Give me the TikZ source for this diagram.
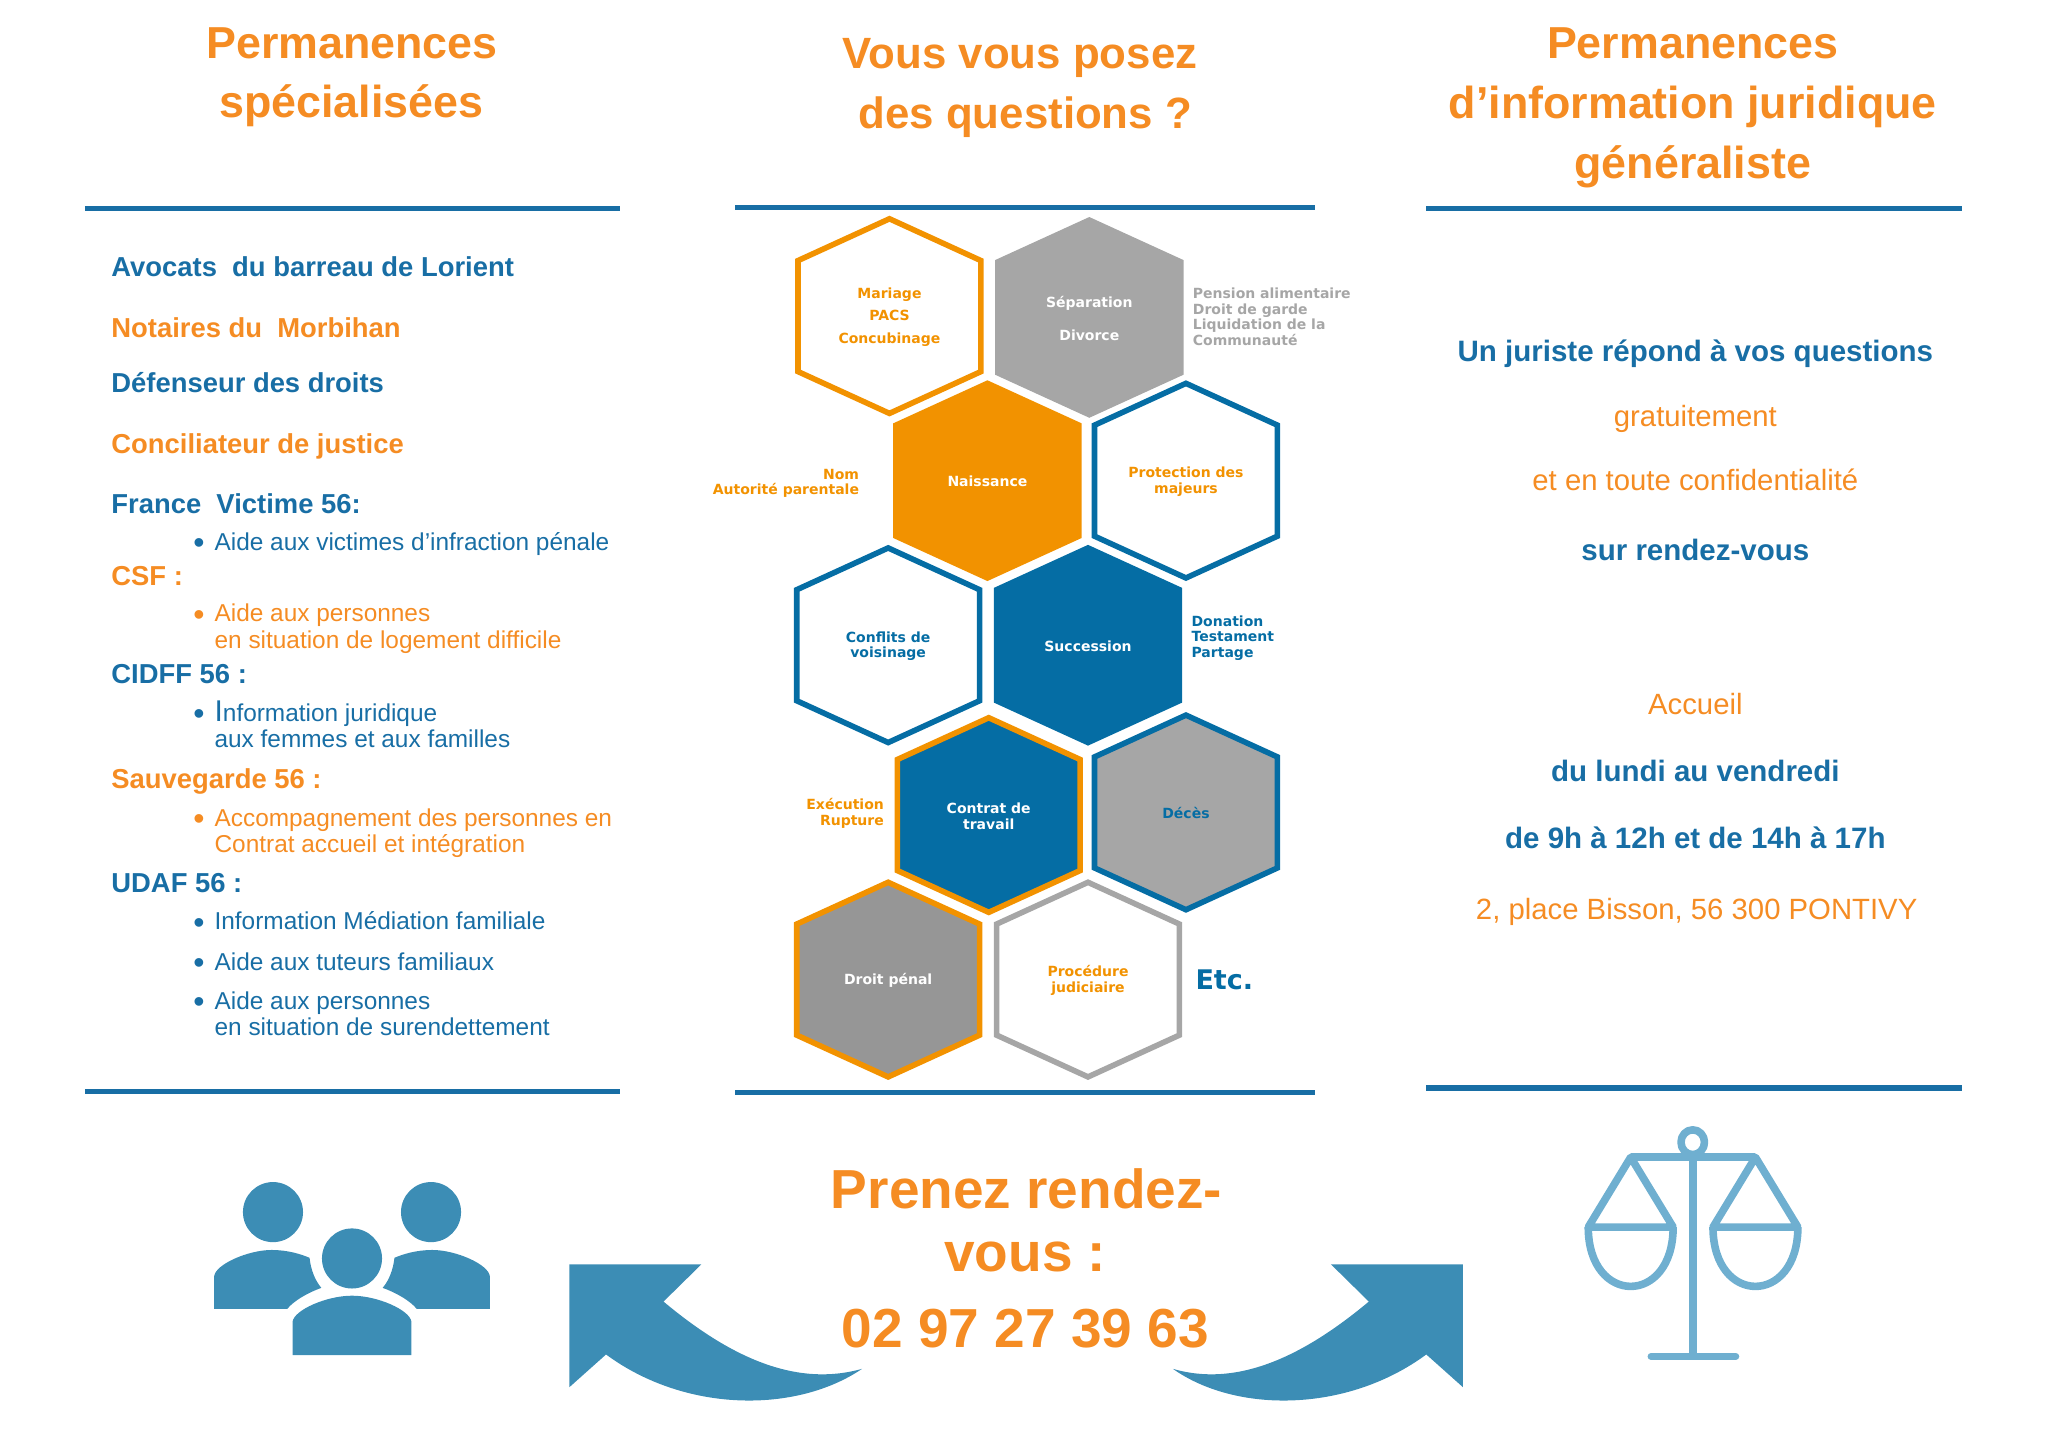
\documentclass[tikz,border=0pt]{standalone}
\usepackage{fontspec}
\setmainfont{Liberation Sans}
\newfontfamily\hexfont{DejaVu Sans}
\usepackage{color}
\definecolor{myblue}{RGB}{24,110,165}
\definecolor{myorange}{RGB}{245,140,35}
\definecolor{hexblue}{RGB}{5,109,164}
\definecolor{hexorange}{RGB}{242,146,0}
\definecolor{hexgray}{RGB}{166,166,166}
\definecolor{hexdark}{RGB}{150,150,150}
\definecolor{arrowblue}{RGB}{60,141,181}
\definecolor{scaleblue}{RGB}{111,175,208}
\usetikzlibrary{positioning,calc}

\newcommand{\fsize}[2]{\fontsize{#1}{#2}\selectfont}
\newcommand{\puce}{\llap{\raisebox{-1.6pt}{\fsize{16}{13}\textbullet}\hspace{5pt}}}
% one hexagon: name, position, outline and fill, text colour and font, text
\newcommand{\hexcell}[5]{
  \draw[myhex, #3, shift={(#2)}] (0,-74.5) -- (70,-42.5) -- (70,42.5) -- (0,74.5)
    -- (-70,42.5) -- (-70,-42.5) -- cycle;
  \node[hexlabel, #4] (#1) at ($(#2)+(0,0.8)$) {#5};
}

\begin{document}
\begin{tikzpicture}[
  x=0.653pt, y=-0.653pt,
  myrule/.style={myblue, line width=2.6pt},
  myhex/.style={line width=2.8pt, line join=miter},
  hexlabel/.style={font=\hexfont\bfseries\fsize{7}{7.8}, align=center, inner sep=0pt},
  mytitle/.style={font=\bfseries\fsize{22.4}{30}, myorange, anchor=center, inner sep=0pt},
  mybig/.style={font=\bfseries\fsize{27.5}{30}, myorange, anchor=center, inner sep=0pt},
  myhead/.style={font=\bfseries\fsize{13.7}{16}, anchor=base west, inner sep=0pt},
  myitem/.style={font=\fsize{12.2}{13.3}, anchor=base west, align=left, inner sep=0pt},
  myside/.style={font=\hexfont\bfseries\fsize{7}{7.8}, inner sep=0pt},
  myright/.style={font=\fsize{14.65}{16}, anchor=center, inner sep=0pt},
  myrightb/.style={font=\bfseries\fsize{14.75}{16}, myblue, anchor=center, inner sep=0pt}
]
\useasboundingbox (0,0) rectangle (1568,1107.1);

% titles
\node[mytitle] (titleleft) at (269.5,33) {Permanences};
\node[mytitle] (titleleftb) at (269,81) {spécialisées};
\node[mytitle, font=\bfseries\fsize{21.9}{30}] (titlemid) at (781,44) {Vous vous posez};
\node[mytitle, font=\bfseries\fsize{21.9}{30}] (titlemidb) at (785,90) {des questions ?};
\node[mytitle] (titleright) at (1296,33) {Permanences};
\node[mytitle] (titlerightb) at (1296,82) {d’information juridique};
\node[mytitle] (titlerightc) at (1296,128) {généraliste};

% rules
\draw[myrule] (65,159.5) -- (475,159.5);
\draw[myrule] (563,159) -- (1007,159);
\draw[myrule] (1092,159.5) -- (1502,159.5);
\draw[myrule] (65,835.5) -- (475,835.5);
\draw[myrule] (563,836.5) -- (1007,836.5);
\draw[myrule] (1092,833) -- (1502,833);

% left column
\node[myhead, myblue] (avocats) at (85,212) {Avocats \ du barreau de Lorient};
\node[myhead, myorange] (notaires) at (85,258.5) {Notaires du \ Morbihan};
\node[myhead, myblue] (defenseur) at (85,300.5) {Défenseur des droits};
\node[myhead, myorange] (conciliateur) at (85,347) {Conciliateur de justice};
\node[myhead, myblue] (france) at (85,393) {France \ Victime 56:};
\node[myitem, myblue] (franceitem) at (164,421.5) {\puce Aide aux victimes d’infraction pénale};
\node[myhead, myorange] (csf) at (85,448) {CSF :};
\node[myitem, myorange] (csfitem) at (164,496.5) {\puce Aide aux personnes\\en situation de logement difficile};
\node[myhead, myblue] (cidff) at (85,523) {CIDFF 56 :};
\node[myitem, myblue] (cidffitem) at (164,572.5) {\puce {\fsize{15}{13.3}I}nformation juridique\\aux femmes et aux familles};
\node[myhead, myorange] (sauvegarde) at (85,604) {Sauvegarde 56 :};
\node[myitem, myorange] (sauvegardeitem) at (164,653) {\puce Accompagnement des personnes en\\Contrat accueil et intégration};
\node[myhead, myblue] (udaf) at (85,683) {UDAF 56 :};
\node[myitem, myblue] (udafitema) at (164,712) {\puce Information Médiation familiale};
\node[myitem, myblue] (udafitemb) at (164,743) {\puce Aide aux tuteurs familiaux};
\node[myitem, myblue] (udafitemc) at (164,793) {\puce Aide aux personnes\\en situation de surendettement};

% hexagons
\hexcell{mariage}{681,242}{draw=hexorange, fill=white}{hexorange, font=\hexfont\bfseries\fsize{7}{11.1}}{Mariage\\PACS\\Concubinage}
\hexcell{separation}{834,243}{draw=hexgray, fill=hexgray}{white, font=\hexfont\bfseries\fsize{7}{16.3}}{Séparation\\Divorce}
\hexcell{naissance}{756,368}{draw=hexorange, fill=hexorange}{white}{Naissance}
\hexcell{protection}{908,368}{draw=hexblue, fill=white}{hexorange}{Protection des\\majeurs}
\hexcell{conflits}{680,494}{draw=hexblue, fill=white}{hexblue}{Conflits de\\voisinage}
\hexcell{succession}{833,494}{draw=hexblue, fill=hexblue}{white}{Succession}
\hexcell{contrat}{757,624}{draw=hexorange, fill=hexblue}{white}{Contrat de\\travail}
\hexcell{deces}{908,622}{draw=hexblue, fill=hexgray}{hexblue}{Décès}
\hexcell{penal}{680,750}{draw=hexorange, fill=hexdark}{white}{Droit pénal}
\hexcell{procedure}{833,750}{draw=hexgray, fill=white}{hexorange}{Procédure\\judiciaire}

\node[myside, hexgray, align=left, anchor=west] (seplabel) at (913,242.5) {Pension alimentaire\\Droit de garde\\Liquidation de la\\Communauté};
\node[myside, hexorange, align=right, anchor=east] (naislabel) at (658,370) {Nom\\Autorité parentale};
\node[myside, hexblue, align=left, anchor=west] (suclabel) at (912,488.5) {Donation\\Testament\\Partage};
\node[myside, hexorange, align=right, anchor=east] (conlabel) at (677,622.5) {Exécution\\Rupture};
\node[font=\hexfont\bfseries\fsize{13.5}{15}, hexblue, anchor=west, inner sep=0pt] (etc) at (915,750) {Etc.};

% right column
\node[myrightb] (juriste) at (1298,270.5) {Un juriste répond à vos questions};
\node[myright, myorange] (gratuit) at (1298,321) {gratuitement};
\node[myright, myorange] (confid) at (1298,367) {et en toute confidentialité};
\node[myrightb] (rdv) at (1298,421) {sur rendez-vous};
\node[myright, myorange] (accueil) at (1298,539) {Accueil};
\node[myrightb] (lundi) at (1298,590) {du lundi au vendredi};
\node[myrightb] (heures) at (1298,641.5) {de 9h à 12h et de 14h à 17h};
\node[myright, myorange] (adresse) at (1299,698) {2, place Bisson, 56 300 PONTIVY};

% bottom
\node[mybig] (prenez) at (786,910) {Prenez rendez-};
\node[mybig] (vous) at (785,962) {vous :};
\node[mybig] (tel) at (785,1017) {02 97 27 39 63};

% arrows
\fill[arrowblue] (436,968) -- (537,968) -- (508,996.5)
  .. controls (560,1040) and (610,1062) .. (660,1048)
  .. controls (610,1082) and (525,1082) .. (464,1037) -- (436,1062) -- cycle;
\fill[arrowblue] (1120,968) -- (1019,968) -- (1048,996.5)
  .. controls (996,1040) and (946,1062) .. (898,1048)
  .. controls (946,1082) and (1031,1082) .. (1092,1037) -- (1120,1062) -- cycle;

% people
\fill[arrowblue] (209,928) ellipse (23 and 23);
\fill[arrowblue] (330,928) ellipse (23 and 23);
\fill[arrowblue] (269.5,963.5) ellipse (23 and 23);
\fill[arrowblue] (164,1002) -- (164,977) .. controls (165,968) and (190,957) .. (208,957)
  .. controls (220,957) and (230,960) .. (237,963) .. controls (238,972) and (241,980) .. (246,986)
  .. controls (235,990) and (225,996) .. (220,1002) -- cycle;
\fill[arrowblue] (375,1002) -- (375,977) .. controls (374,968) and (349,957) .. (331,957)
  .. controls (319,957) and (309,960) .. (302,963) .. controls (301,972) and (298,980) .. (293,986)
  .. controls (304,990) and (314,996) .. (319,1002) -- cycle;
\fill[arrowblue] (224,1037.5) -- (224,1012) .. controls (225,1003) and (250,992) .. (269.5,992)
  .. controls (289,992) and (314,1003) .. (315,1012) -- (315,1037.5) -- cycle;

% scale
\begin{scope}[scaleblue, line width=3.8pt, line join=round]
  \draw (1296,874.5) ellipse (9 and 9.5);
  \draw (1248.5,886) -- (1344,886);
  \draw (1296,886) -- (1296,1038);
  \draw[line cap=round, line width=3.4pt] (1264,1038.5) -- (1329,1038.5);
  \draw (1216,939.5) -- (1248.5,886) -- (1281,939.5) -- cycle;
  \draw (1216,939.5) .. controls (1216,1000) and (1281,1000) .. (1281,939.5);
  \draw (1311.5,939.5) -- (1344,886) -- (1376.5,939.5) -- cycle;
  \draw (1311.5,939.5) .. controls (1311.5,1000) and (1376.5,1000) .. (1376.5,939.5);
\end{scope}
\end{tikzpicture}
\end{document}
